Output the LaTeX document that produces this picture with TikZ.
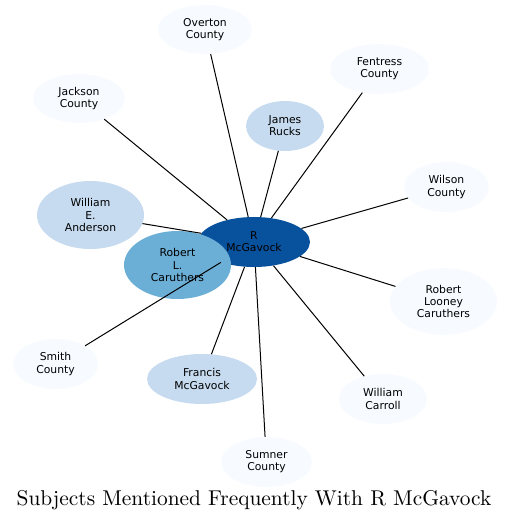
\documentclass[tikz,border=0pt]{standalone}
\usepackage{fontspec}
\setsansfont{DejaVu Sans}
\newfontfamily\titlefont{lmroman10-regular}[Extension=.otf]
\usepackage{xcolor}
\usepackage{tikz}
\usetikzlibrary{shapes.geometric}

\definecolor{bluezero}{RGB}{247,251,255}
\definecolor{bluetwo}{RGB}{198,219,239}
\definecolor{bluefour}{RGB}{107,174,214}
\definecolor{bluesix}{RGB}{8,81,156}

\begin{document}
\begin{tikzpicture}[x=1pt, y=-1pt]
    \tikzstyle{subj} = [ellipse, fill=bluezero, inner sep=0pt, align=center, font=\sffamily\fontsize{10.8}{12.2}\selectfont]
    \tikzstyle{link} = [black, line width=1pt]

    \useasboundingbox (0,0) rectangle (509,523);

    % Central subject
    \node[subj, fill=bluesix, minimum width=112, minimum height=50] (mcg) at (254,242) {R\\McGavock};

    % Surrounding subjects
    \node[subj, minimum width=94, minimum height=49] (overton) at (205,29.5) {Overton\\County};
    \node[subj, minimum width=99, minimum height=50] (fentress) at (379.5,69) {Fentress\\County};
    \node[subj, minimum width=92, minimum height=49] (jackson) at (79,98.5) {Jackson\\County};
    \node[subj, fill=bluetwo, minimum width=78, minimum height=50] (rucks) at (285,126) {James\\Rucks};
    \node[subj, minimum width=85, minimum height=50] (wilson) at (446.5,187) {Wilson\\County};
    \node[subj, fill=bluetwo, minimum width=107, minimum height=68] (anderson) at (90.5,215) {William\\E.\\Anderson};
    \node[subj, fill=bluefour, minimum width=107, minimum height=68] (rlcar) at (177.5,265) {Robert\\L.\\Caruthers};
    \node[subj, minimum width=107, minimum height=67] (looney) at (443.5,301.5) {Robert\\Looney\\Caruthers};
    \node[subj, minimum width=85, minimum height=50] (smith) at (55.5,364) {Smith\\County};
    \node[subj, fill=bluetwo, minimum width=110, minimum height=50] (francis) at (202,379) {Francis\\McGavock};
    \node[subj, minimum width=88, minimum height=50] (carroll) at (383,399) {William\\Carroll};
    \node[subj, minimum width=91, minimum height=50] (sumner) at (266.5,462) {Sumner\\County};

    % Links to the central subject
    \foreach \n in {overton,fentress,jackson,rucks,wilson,anderson,looney,smith,francis,carroll,sumner} {
        \draw[link] (mcg) -- (\n);
    }

    % Title
    \node[font=\titlefont\fontsize{21.4}{24}\selectfont] (title) at (254,500.5) {Subjects Mentioned Frequently With R McGavock};
\end{tikzpicture}
\end{document}
